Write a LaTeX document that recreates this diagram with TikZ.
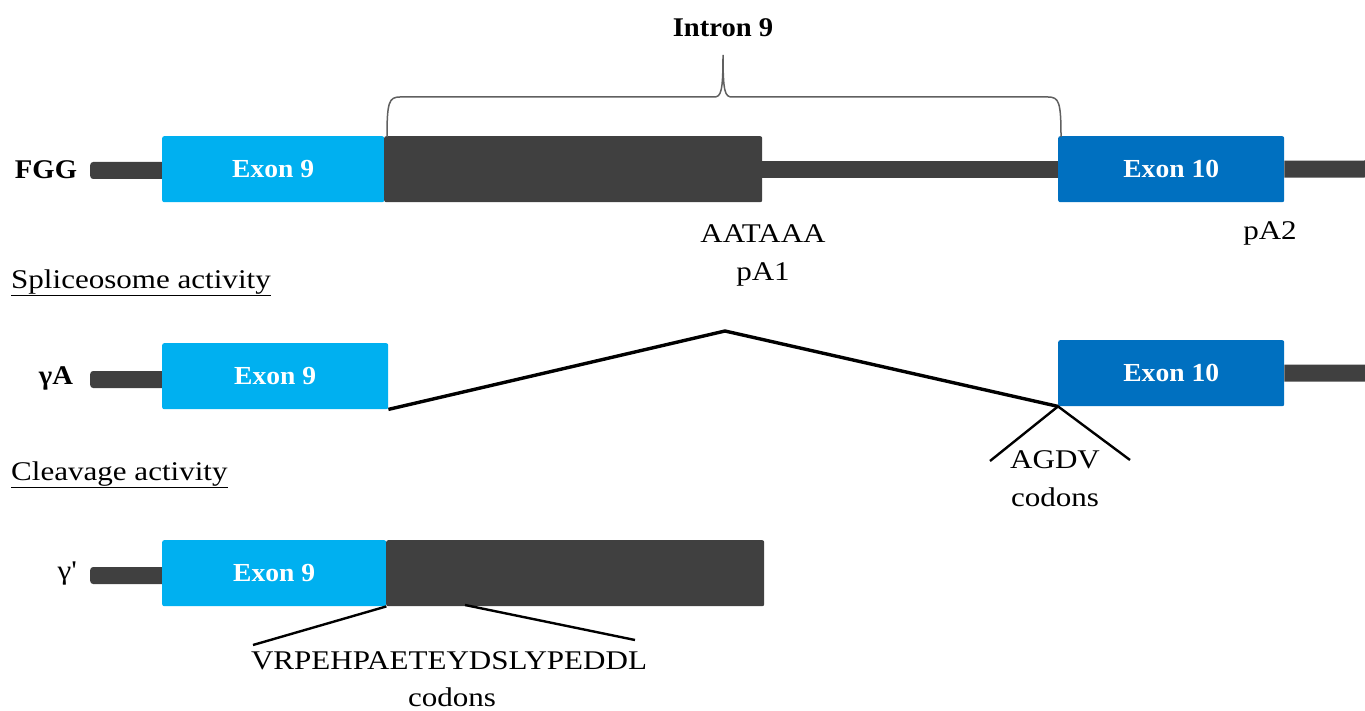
\documentclass[tikz,border=0pt]{standalone}
\usepackage{fontspec}
\setmainfont{Liberation Serif}[FakeStretch=1.15, BoldFeatures={FakeStretch=1.06}]
\begin{document}
\begin{tikzpicture}[x=1pt,y=-1pt,
  every node/.style={font=\fontsize{26}{30}\selectfont},
  box/.style={draw=none, rounded corners=2pt, inner sep=0pt, anchor=north west, minimum height=66pt, text=white, font=\fontsize{26}{30}\selectfont\bfseries},
  exlight/.style={box, fill=lightblue},
  exdark/.style={box, fill=darkblue},
  intr/.style={box, fill=bargray},
  barnode/.style={fill=bargray, draw=none, rounded corners=3pt, inner sep=0pt, minimum height=17pt, anchor=west},
  barline/.style={line width=17pt, bargray},
  splice/.style={line width=3.4pt, black},
  codon/.style={line width=2.4pt, black},
  lbl/.style={font=\fontsize{27}{30}\selectfont\bfseries},
  txt/.style={font=\fontsize{27}{30}\selectfont, inner sep=0pt},
  head/.style={font=\fontsize{27}{30}\selectfont, inner sep=0pt, anchor=west}
]
\definecolor{lightblue}{HTML}{00B0F0}
\definecolor{darkblue}{HTML}{0070C0}
\definecolor{bargray}{HTML}{404040}
\definecolor{bracegray}{HTML}{606060}
\useasboundingbox (0,0) rectangle (1365,711);

% ---------- Row 1: FGG ----------
\node[lbl] (fgg) at (46,170) {FGG};
\node[barnode, minimum width=78pt] (b1l) at (90,170.5) {};
\node[exlight, minimum width=222pt] (e9a) at (162,136) {Exon 9};
\node[intr, minimum width=378pt] (i9a) at (384,136) {};
\node[exdark, minimum width=226pt] (e10a) at (1058,136) {Exon 10};
\draw[barline] (i9a.east) -- (e10a.west);
\coordinate (r1end) at (1365,169);
\draw[barline] (e10a.east) -- (r1end);

% brace
\draw[bracegray, line width=1.5pt]
  (387,137) .. controls (387,102) and (389,97) .. (400,97) -- (714,97)
  .. controls (721,97) and (723,92) .. (723,55)
  .. controls (723,92) and (725,97) .. (732,97) -- (1048,97)
  .. controls (1059,97) and (1061,102) .. (1061,137);
\node[lbl] (intron) at (723,28) {Intron 9};

\node[txt] (aataaa) at (763,234) {AATAAA};
\node[txt] (pa1) at (763,274) {pA1};
\node[txt] (pa2) at (1270,233) {pA2};

% ---------- Spliceosome ----------
\node[head] (splh) at (11,283) {\underline{Spliceosome activity}};

% ---------- Row 2: gamma A ----------
\node[lbl] (ga) at (56,378) {γA};
\node[barnode, minimum width=78pt] (b2l) at (90,379.5) {};
\node[exlight, minimum width=226pt] (e9b) at (162,343) {Exon 9};
\node[exdark, minimum width=226pt] (e10b) at (1058,340) {Exon 10};
\coordinate (r2end) at (1365,373);
\draw[barline] (e10b.east) -- (r2end);
\coordinate (peak) at (725,331);
\draw[splice, line join=miter] (e9b.south east) -- (peak) -- (e10b.south west);
\coordinate (agl) at (990,461);
\coordinate (agr) at (1130,460);
\draw[codon] (agl) -- (e10b.south west) -- (agr);
\node[txt] (agdv) at (1055,460) {AGDV};
\node[txt] (cod1) at (1055,497) {codons};

% ---------- Cleavage ----------
\node[head] (clh) at (11,475) {\underline{Cleavage activity}};

% ---------- Row 3: gamma' ----------
\node[txt] (gp) at (67,574) {γ\textquotesingle};
\node[barnode, minimum width=78pt] (b3l) at (90,575.5) {};
\node[exlight, minimum width=224pt] (e9c) at (162,540) {Exon 9};
\node[intr, minimum width=378pt] (i9c) at (386,540) {};
\coordinate (cl) at (253,645);
\coordinate (cm) at (465,605);
\coordinate (cr) at (635,640);
\draw[codon] (e9c.south east) -- (cl);
\draw[codon] (cm) -- (cr);
\node[txt] (vrp) at (449,661) {VRPEHPAETEYDSLYPEDDL};
\node[txt] (cod2) at (452,697) {codons};
\end{tikzpicture}
\end{document}
